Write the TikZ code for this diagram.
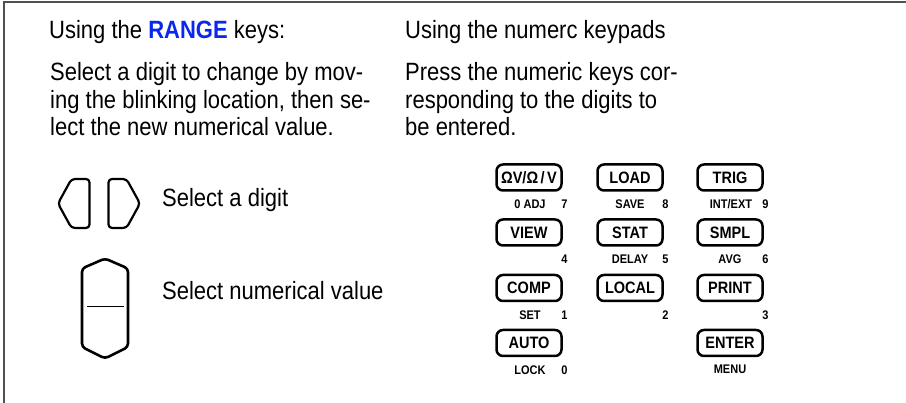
\documentclass[tikz,border=0pt]{standalone}
\usepackage{fontspec}
\setmainfont{Liberation Sans}[FakeStretch=0.88]
\usepackage{tikz}
\usetikzlibrary{positioning,calc}
\definecolor{rangeblue}{RGB}{10,40,235}
\definecolor{framegray}{RGB}{80,80,80}

\begin{document}
\begin{tikzpicture}[x=1pt, y=-1pt,
  every node/.style={inner sep=0pt},
  body/.style={anchor=base west, font=\fontsize{25}{28}\selectfont},
  padkey/.style={draw, line width=2.5pt, rounded corners=6.5pt, minimum width=65pt,
    minimum height=26pt, font=\fontsize{16.5}{16.5}\selectfont\bfseries},
  padfn/.style={font=\fontsize{12.5}{12.5}\selectfont\bfseries},
  padnum/.style={anchor=east, font=\fontsize{12.5}{12.5}\selectfont\bfseries},
  rangekey/.style={line width=2.2pt, rounded corners=3.5pt, line join=round}]
\useasboundingbox (0,0) rectangle (906,403);
\draw[framegray, line width=2pt] (906,2.5) -- (4,2.5) -- (4,403);
% left column: the RANGE keys
\node[body] (rtitle) at (49,39) {Using the \textcolor{rangeblue}{\bfseries RANGE} keys:};
\node[body] (rline1) at (50,81) {Select a digit to change by mov-};
\node[body] (rline2) at (50,108.5) {ing the blinking location, then se-};
\node[body] (rline3) at (50,136) {lect the new numerical value.};
\draw[rangekey] (89.5,179) -- (71.5,179) -- (58,203.5) -- (71.5,228) -- (89.5,228) -- cycle;
\draw[rangekey] (108.5,179) -- (126.5,179) -- (140,203.5) -- (126.5,228) -- (108.5,228) -- cycle;
\node[body] (rdigit) at (162,207) {Select a digit};
\draw[rangekey, line width=2.6pt] (105,258.5) -- (128,268.5) -- (128,347) -- (105,358.5)
  -- (82,347) -- (82,268.5) -- cycle;
\draw[line width=1.2pt] (87,306.7) -- (123.5,306.7);
\node[body] (rvalue) at (162,300) {Select numerical value};
% right column: the numeric keypad
\node[body] (ntitle) at (405,39) {Using the numerc keypads};
\node[body] (nline1) at (405,81) {Press the numeric keys cor-};
\node[body] (nline2) at (405,108.5) {responding to the digits to};
\node[body] (nline3) at (405,136) {be entered.};
\node[padkey] (k7) at (529,177.5) {ΩV/Ω\hspace{2.5pt}/\hspace{2.5pt}V};
\node[padkey] (k8) at (630,177.5) {LOAD};
\node[padkey] (k9) at (730,177.5) {TRIG};
\node[padkey] (k4) at (529,232.5) {VIEW};
\node[padkey] (k5) at (630,232.5) {STAT};
\node[padkey] (k6) at (730,232.5) {SMPL};
\node[padkey] (k1) at (529,288) {COMP};
\node[padkey] (k2) at (630,288) {LOCAL};
\node[padkey] (k3) at (730,288) {PRINT};
\node[padkey] (k0) at (529,343) {AUTO};
\node[padkey] (kenter) at (730,343) {ENTER};
\node[padfn] (f7) at ([xshift=1pt, yshift=-12.5pt]k7.south) {0 ADJ};
\node[padfn] (f8) at ([yshift=-12.5pt]k8.south) {SAVE};
\node[padfn] (f9) at ([xshift=1pt, yshift=-12.5pt]k9.south) {INT/EXT};
\node[padfn] (f5) at ([yshift=-12.5pt]k5.south) {DELAY};
\node[padfn] (f6) at ([yshift=-12.5pt]k6.south) {AVG};
\node[padfn] (f1) at ([xshift=1pt, yshift=-12.5pt]k1.south) {SET};
\node[padfn] (f0) at ([xshift=1pt, yshift=-12.5pt]k0.south) {LOCK};
\node[padfn] (fenter) at ([yshift=-12.5pt]kenter.south) {MENU};
\foreach \d in {0,...,9}
  \node[padnum] (n\d) at ([xshift=5pt, yshift=-12.5pt]k\d.south east) {\d};
\end{tikzpicture}
\end{document}
